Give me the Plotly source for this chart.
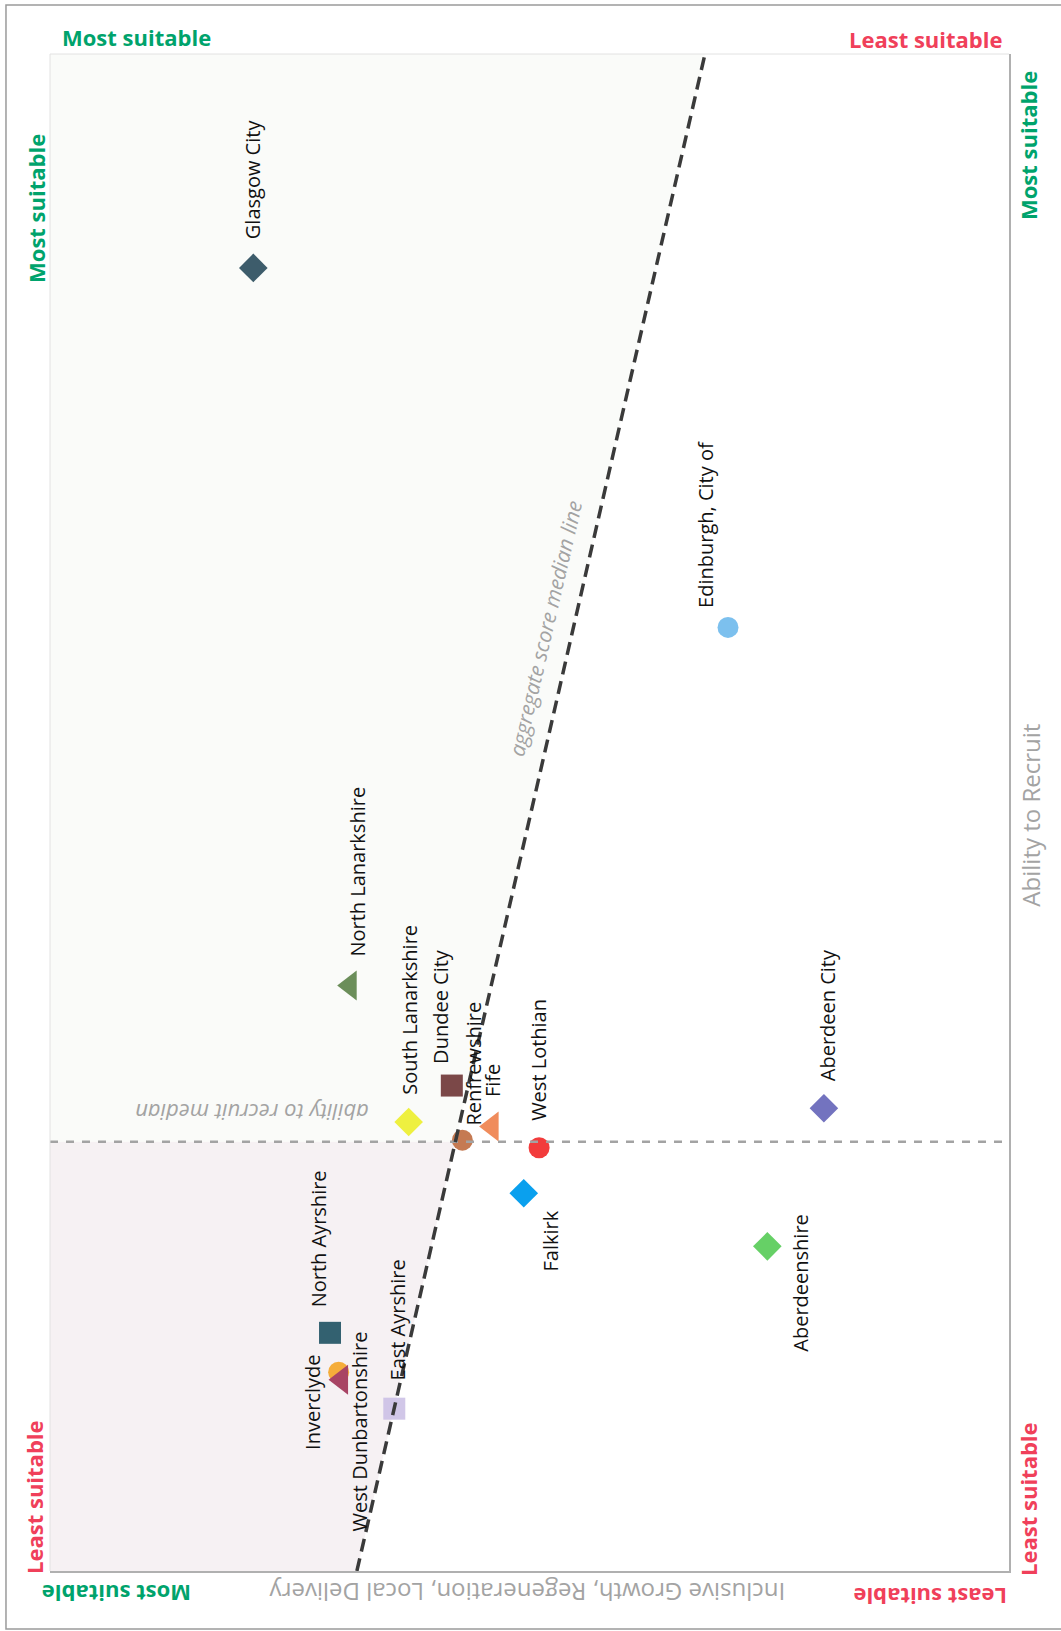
import plotly.graph_objects as go

# ---------------- data ----------------
areas = ["Glasgow City", "Edinburgh, City of", "North Lanarkshire", "South Lanarkshire",
         "Dundee City", "Renfrewshire", "Fife", "West Lothian", "Falkirk",
         "Aberdeen City", "Aberdeenshire", "North Ayrshire", "Inverclyde",
         "West Dunbartonshire", "East Ayrshire"]
# horizontal position (Inclusive Growth, Regeneration, Local Delivery score)
growth_score = [21.2, 70.7, 31.3, 37.4, 41.9, 43.0, 46.1, 51.0, 49.4, 80.7, 74.8, 29.2, 30.1, 30.4, 35.9]
# vertical position (Ability to Recruit score)
recruit_score = [85.9, 62.2, 38.6, 29.6, 32.0, 28.4, 29.3, 27.9, 24.9, 30.5, 21.4, 15.7, 13.1, 12.6, 10.7]

recruit_median = 28.3
agg_line_x = [32.0, 68.3]
agg_line_y = [0.0, 100.0]

# ---------------- styles ----------------
marker_symbols = ["diamond", "circle", "triangle-left", "diamond", "square", "circle",
                  "triangle-left", "circle", "diamond", "diamond", "diamond", "square",
                  "circle", "triangle-left", "square"]
marker_colors = ["#3d5c6b", "#7cc0ee", "#6b8e5a", "#eef040", "#7b4848", "#c57a52",
                 "#f08c5c", "#f23c3c", "#0aa0ee", "#7373bf", "#66d066", "#336170",
                 "#f5ad3a", "#a84464", "#c9bde4"]
marker_sizes = {"diamond": 22, "circle": 21, "triangle-left": 26, "square": 22}

# label placement: (xshift, yanchor, yshift)
label_place = {
    "Glasgow City": (0, "bottom", 27),
    "Edinburgh, City of": (-22, "bottom", 17),
    "North Lanarkshire": (7, "bottom", 27),
    "South Lanarkshire": (1, "bottom", 25),
    "Dundee City": (-12, "bottom", 20),
    "Renfrewshire": (11, "bottom", 13),
    "Fife": (0, "bottom", 27),
    "West Lothian": (0, "bottom", 25),
    "Falkirk": (27, "top", -15),
    "Aberdeen City": (3, "bottom", 25),
    "Aberdeenshire": (33, "middle", -36),
    "North Ayrshire": (-12, "bottom", 23),
    "Inverclyde": (-26, "middle", -30),
    "West Dunbartonshire": (18, "top", 50),
    "East Ayrshire": (3, "bottom", 26),
}

GREEN = "#00a36c"
RED = "#f0405a"
GRAY = "#a3a3a3"
FONT = "Open Sans"

fig = go.Figure()

# shaded regions bounded by the aggregate median line and the recruit median
slope = (agg_line_x[1] - agg_line_x[0]) / (agg_line_y[1] - agg_line_y[0])
x_at_median = agg_line_x[0] + slope * (recruit_median - agg_line_y[0])

fig.add_trace(go.Scatter(
    x=[0, 0, agg_line_x[1], x_at_median, 0],
    y=[recruit_median, 100, agg_line_y[1], recruit_median, recruit_median],
    fill="toself", fillcolor="#fafbf9", line=dict(width=0), mode="lines",
    hoverinfo="skip", showlegend=False))
fig.add_trace(go.Scatter(
    x=[0, agg_line_x[0], x_at_median, 0, 0],
    y=[agg_line_y[0], agg_line_y[0], recruit_median, recruit_median, 0],
    fill="toself", fillcolor="#f6f1f3", line=dict(width=0), mode="lines",
    hoverinfo="skip", showlegend=False))

# points
for i, name in enumerate(areas):
    sym = marker_symbols[i]
    fig.add_trace(go.Scatter(
        x=[growth_score[i]], y=[recruit_score[i]], mode="markers", name=name,
        marker=dict(symbol=sym, size=marker_sizes[sym], color=marker_colors[i],
                    line=dict(width=0), opacity=0.85 if name == "East Ayrshire" else 1),
        showlegend=False))

# median lines
fig.add_trace(go.Scatter(
    x=[0, 100], y=[recruit_median, recruit_median], mode="lines",
    line=dict(color=GRAY, width=2.5, dash="8px,8px"), hoverinfo="skip", showlegend=False))
fig.add_trace(go.Scatter(
    x=agg_line_x, y=agg_line_y, mode="lines",
    line=dict(color="#3a3a3a", width=3.5, dash="13px,7px"), hoverinfo="skip", showlegend=False))

annotations = []
for i, name in enumerate(areas):
    xs, ya, ys = label_place[name]
    annotations.append(dict(
        x=growth_score[i], y=recruit_score[i], xref="x", yref="y", text=name,
        showarrow=False, textangle=-90, xanchor="center", yanchor=ya,
        xshift=xs, yshift=ys, font=dict(family=FONT, size=20, color="#111111")))

# median labels
annotations.append(dict(
    x=21.1, y=recruit_median, xref="x", yref="y", text="<i>ability to recruit median</i>",
    showarrow=False, textangle=180, xanchor="center", yanchor="middle", yshift=28,
    font=dict(family=FONT, size=22, color=GRAY)))
agg_lbl_y = 62.1
annotations.append(dict(
    x=agg_line_x[0] + slope * agg_lbl_y, y=agg_lbl_y, xref="x", yref="y",
    text="<i>aggregate score median line</i>", showarrow=False, textangle=-77,
    xanchor="center", yanchor="middle", xshift=-28,
    font=dict(family=FONT, size=21, color=GRAY)))

def corner(text, x, y, color, angle):
    return dict(x=x, y=y, xref="paper", yref="paper", text="<b>" + text + "</b>",
                showarrow=False, textangle=angle, xanchor="center", yanchor="middle",
                font=dict(family=FONT, size=22, color=color))

annotations += [
    corner("Most suitable", 0.0897, 1.0112, GREEN, 0),
    corner("Least suitable", 0.9135, 1.0099, RED, 0),
    corner("Most suitable", -0.0146, 0.8985, GREEN, -90),
    corner("Least suitable", -0.0167, 0.0488, RED, -90),
    corner("Most suitable", 1.0198, 0.940, GREEN, -90),
    corner("Least suitable", 1.0198, 0.0475, RED, -90),
    corner("Most suitable", 0.0688, -0.0152, GREEN, 180),
    corner("Least suitable", 0.9176, -0.0171, RED, 180),
]
annotations.append(dict(
    x=0.497, y=-0.0138, xref="paper", yref="paper", xanchor="center", yanchor="middle",
    text="Inclusive Growth, Regeneration, Local Delivery", showarrow=False, textangle=180,
    font=dict(family=FONT, size=24, color=GRAY)))
annotations.append(dict(
    x=1.022, y=0.498, xref="paper", yref="paper", xanchor="center", yanchor="middle",
    text="Ability to Recruit", showarrow=False, textangle=-90,
    font=dict(family=FONT, size=24, color=GRAY)))

shapes = [
    # outer frame
    dict(type="rect", xref="paper", yref="paper", x0=-0.0459, x1=1.06, y0=-0.0382, y1=1.0323,
         line=dict(color="#9a9a9a", width=1.5), layer="below"),
    # faint top/left plot edges
    dict(type="line", xref="paper", yref="paper", x0=0, x1=1, y0=1, y1=1,
         line=dict(color="#e2e2e2", width=1)),
    dict(type="line", xref="paper", yref="paper", x0=0, x1=0, y0=0, y1=1,
         line=dict(color="#e2e2e2", width=1)),
]

fig.update_layout(
    width=1061, height=1631,
    margin=dict(l=50, r=52, t=54, b=60),
    paper_bgcolor="white", plot_bgcolor="white",
    xaxis=dict(range=[0, 100], showgrid=False, zeroline=False, showticklabels=False,
               ticks="", showline=True, linecolor="#b0b0b0", linewidth=1.5),
    yaxis=dict(range=[0, 100], showgrid=False, zeroline=False, showticklabels=False,
               ticks="", showline=True, linecolor="#b0b0b0", linewidth=1.5, side="right"),
    annotations=annotations, shapes=shapes,
)

fig.write_html("out.html")
